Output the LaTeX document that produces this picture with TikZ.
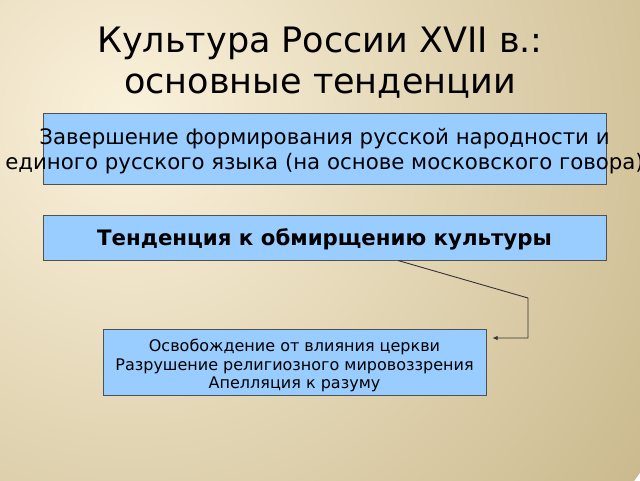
\documentclass[tikz,border=0pt]{standalone}
\usepackage{fontspec}
\setmainfont{DejaVu Sans}
\usetikzlibrary{arrows.meta}
\definecolor{bglight}{HTML}{FBF2DC}
\definecolor{bgdark}{HTML}{CBBA8E}
\definecolor{boxfill}{HTML}{99CCFF}
\definecolor{boxline}{HTML}{505050}
\begin{document}
\begin{tikzpicture}[x=1pt,y=-1pt,
	box/.style={draw=boxline,fill=boxfill,line width=1pt,inner sep=0pt},
	link/.style={draw=black!80,line width=0.9pt,-{Latex[length=5pt,width=4.5pt]}}]
		% background
		\useasboundingbox (0,0) rectangle (640,480);
		\begin{scope}
		\clip (0,0) rectangle (640,480);
		\shade[inner color=bglight,outer color=bgdark] (130,120) circle (620);
		\end{scope}
		% title
		\node[font=\fontsize{35}{41}\selectfont,align=center] (title) at (320,63) {Культура России XVII в.:\\основные тенденции};
		% boxes
		\node[box,minimum width=563,minimum height=71] (lang) at (324.5,148.5) {};
		\node[font=\fontsize{21.3}{25}\selectfont,align=center] (langtext) at ([yshift=-2.5pt]lang) {Завершение формирования русской народности и\\единого русского языка (на основе московского говора)};
		\node[box,minimum width=563,minimum height=45] (trend) at (324.5,237.5) {};
		\node[font=\fontsize{21.3}{25}\selectfont\bfseries] (trendtext) at ([yshift=-2pt]trend) {Тенденция к обмирщению культуры};
		\node[box,minimum width=383,minimum height=66] (result) at (294.5,362.5) {};
		\node[font=\fontsize{16}{18.5}\selectfont,align=center] (resulttext) at ([yshift=-3pt]result) {Освобождение от влияния церкви\\Разрушение религиозного мировоззрения\\Апелляция к разуму};
		% connector
		\coordinate (turn) at (528,298);
		\draw[link,shorten >=6pt] ([xshift=73.5pt]trend.south) -- (turn) |- ([yshift=24.5pt]result.east);
	    \end{tikzpicture}
\end{document}
